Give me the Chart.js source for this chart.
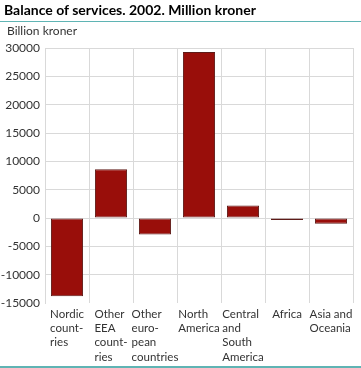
<!DOCTYPE html>
<html>
<head>
<meta charset="utf-8">
<script src="https://cdn.jsdelivr.net/npm/chart.js@4/dist/chart.umd.min.js"></script>
<style>
  html, body { margin: 0; padding: 0; background: #fff; }
  #wrap { position: relative; width: 361px; height: 368px; overflow: hidden; }
  #title { position: absolute; left: 4px; top: 1px; font: bold 14px Lato, sans-serif; color: #000; white-space: nowrap; }
  #topline { position: absolute; left: 0; top: 21px; width: 361px; height: 1px; background: #5fb4b4; }
  #botline { position: absolute; left: 0; top: 366px; width: 361px; height: 2px; background: #5fb4b4; }
  #unit { position: absolute; left: 7px; top: 23px; font: 12px Lato, sans-serif; color: #333; white-space: nowrap; }
  canvas { position: absolute; left: 0; top: 0; }
</style>
</head>
<body>
<div id="wrap">
  <canvas id="c" width="361" height="368"></canvas>
  <div id="title">Balance of services. 2002. Million kroner</div>
  <div id="topline"></div>
  <div id="unit">Billion kroner</div>
  <div id="botline"></div>
</div>
<script>
const categories = [
  ["Nordic", "count-", "ries"],
  ["Other", "EEA", "count-", "ries"],
  ["Other", "euro-", "pean", "countries"],
  ["North", "America"],
  ["Central", "and", "South", "America"],
  ["Africa"],
  ["Asia and", "Oceania"]
];
const values = [-13800, 8600, -2900, 29300, 2200, -350, -1000];
const yTicks = { min: -15000, max: 30000, step: 5000 };

const FONT = 'Lato, sans-serif';

const blockLabels = {
  id: 'blockLabels',
  afterDraw(chart) {
    const xs = chart.scales.x;
    const ctx = chart.ctx;
    ctx.save();
    ctx.font = '11.5px ' + FONT;
    ctx.fillStyle = '#333';
    ctx.textAlign = 'left';
    ctx.textBaseline = 'middle';
    const y0 = chart.chartArea.bottom + 11;
    const lh = 14.3;
    categories.forEach((lines, i) => {
      const cx = xs.getPixelForTick(i);
      let w = 0;
      lines.forEach(l => { w = Math.max(w, ctx.measureText(l).width); });
      lines.forEach((l, j) => ctx.fillText(l, cx - w / 2, y0 + j * lh));
    });
    ctx.restore();
  }
};

new Chart(document.getElementById('c'), {
  type: 'bar',
  data: {
    labels: categories.map(l => l.join(' ')),
    datasets: [{
      data: values,
      backgroundColor: '#990e0a',
      borderColor: '#5e1b18',
      borderWidth: 1,
      borderSkipped: false,
      categoryPercentage: 1,
      barPercentage: 0.73
    }]
  },
  options: {
    responsive: false,
    animation: false,
    devicePixelRatio: 1,
    layout: { padding: { top: 48, right: 8, bottom: 0, left: 0 } },
    plugins: { legend: { display: false }, tooltip: { enabled: false }, title: { display: false } },
    scales: {
      x: {
        grid: { color: '#d9d9d9', lineWidth: 1, drawTicks: false, offset: true },
        border: { display: false },
        ticks: { display: false },
        afterFit: s => { s.height = 65; }
      },
      y: {
        min: yTicks.min,
        max: yTicks.max,
        grid: {
          color: ctx => (ctx.tick && ctx.tick.value === yTicks.min) ? 'rgba(0,0,0,0)' : '#d9d9d9',
          lineWidth: 1,
          drawTicks: false
        },
        border: { display: true, color: '#d9d9d9' },
        ticks: {
          stepSize: yTicks.step,
          padding: 5,
          color: '#333',
          font: { family: FONT, size: 12 },
          callback: v => String(v)
        },
        afterFit: s => { s.width = 45; }
      }
    }
  },
  plugins: [blockLabels]
});
</script>
</body>
</html>
